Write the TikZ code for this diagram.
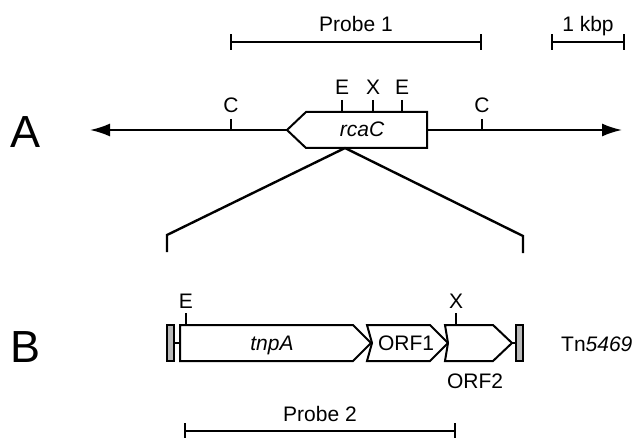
\documentclass[tikz,border=0pt]{standalone}
\usepackage{fontspec}
\setmainfont{Liberation Sans}
\usetikzlibrary{arrows.meta}
\begin{document}
\begin{tikzpicture}[x=1pt,y=-1pt,
  lbl/.style={font=\fontsize{21}{24}\selectfont, inner sep=0pt, anchor=base},
  big/.style={font=\fontsize{45}{50}\selectfont, inner sep=0pt, anchor=base},
  ln/.style={line width=2pt},
  gene/.style={line width=2pt, fill=white, line join=miter},
  endbar/.style={line width=1.6pt, fill=gray!55},
  arr/.style={line width=2pt, -{Latex[length=20pt,width=13pt]}}
]
\useasboundingbox (0,0) rectangle (639,438);

% ---------- scale bars ----------
\coordinate (p1a) at (231,42); \coordinate (p1b) at (481,42);
\draw[ln] (p1a) -- (p1b);
\draw[ln] ([yshift=-8pt]p1a) -- ([yshift=8pt]p1a);
\draw[ln] ([yshift=-8pt]p1b) -- ([yshift=8pt]p1b);
\node[lbl] (probe1) at (356,32) {Probe 1};

\coordinate (ka) at (552,42); \coordinate (kb) at (624,42);
\draw[ln] (ka) -- (kb);
\draw[ln] ([yshift=-8pt]ka) -- ([yshift=8pt]ka);
\draw[ln] ([yshift=-8pt]kb) -- ([yshift=8pt]kb);
\node[lbl] (kbp) at (588,32) {1 kbp};

% ---------- A ----------
\node[big] (A) at (26,148) {A};
\coordinate (lt) at (90,130);
\coordinate (rt) at (622,130);
\coordinate (bl) at (287,130);
\coordinate (br) at (427,130);
\draw[arr] (bl) -- (lt);
\draw[arr] (br) -- (rt);
\draw[gene] (bl) -- (306,112) -- (427,112) -- (427,148) -- (306,148) -- cycle;
\node[lbl, font=\fontsize{21}{24}\selectfont\itshape] (rcaC) at (362,137) {rcaC};

% sites on A
\draw[ln] (231,119) -- (231,130);
\node[lbl] (cL) at (231,113) {C};
\draw[ln] (482,119) -- (482,130);
\node[lbl] (cR) at (482,113) {C};
\draw[ln] (342,100) -- (342,112);
\node[lbl] (e1) at (342,95) {E};
\draw[ln] (373,100) -- (373,112);
\node[lbl] (x1) at (373,95) {X};
\draw[ln] (402,100) -- (402,112);
\node[lbl] (e2) at (402,95) {E};

% ---------- expansion bracket ----------
\coordinate (apex) at (345,148);
\coordinate (bkl) at (167,235);
\coordinate (bkr) at (523,236);
\draw[line width=2.4pt, line join=miter] (apex) -- (bkl) -- (167,252);
\draw[line width=2.4pt, line join=miter] (apex) -- (bkr) -- (523,253);

% ---------- B ----------
\node[big] (B) at (26,362) {B};
\draw[endbar] (167,325) rectangle (174,361);
\draw[ln] (174,343) -- (180,343);
\draw[gene] (180,325) -- (353,325) -- (371,343) -- (353,361) -- (180,361) -- cycle;
\draw[gene] (367,325) -- (430,325) -- (448,343) -- (430,361) -- (367,361) -- (372,343) -- cycle;
\draw[gene] (445,325) -- (493,325) -- (512,343) -- (493,361) -- (445,361) -- (448,343) -- cycle;
\draw[ln] (512,343) -- (516,343);
\draw[endbar] (516,325) rectangle (523,361);

\node[lbl, font=\fontsize{21}{24}\selectfont\itshape] (tnpA) at (272,350) {tnpA};
\node[lbl] (orf1) at (406,350) {ORF1};
\node[lbl] (orf2) at (475,388) {ORF2};
\node[lbl, anchor=base west] (tn) at (561,351) {Tn\textit{5469}};

\draw[ln] (186,313) -- (186,325);
\node[lbl] (eB) at (186,308) {E};
\draw[ln] (456,313) -- (456,325);
\node[lbl] (xB) at (456,308) {X};

% Probe 2
\coordinate (p2a) at (185,431); \coordinate (p2b) at (455,431);
\draw[ln] (p2a) -- (p2b);
\draw[ln] ([yshift=-8pt]p2a) -- ([yshift=8pt]p2a);
\draw[ln] ([yshift=-8pt]p2b) -- ([yshift=8pt]p2b);
\node[lbl] (probe2) at (320,421) {Probe 2};
\end{tikzpicture}
\end{document}
